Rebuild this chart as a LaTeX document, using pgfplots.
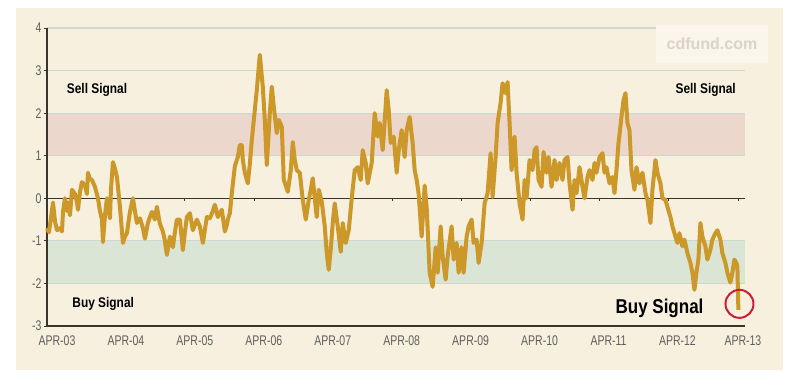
\documentclass[border=0pt]{standalone}
\usepackage{pgfplots}
\pgfplotsset{compat=1.18}
\usepackage{pgfplotstable}
\usepackage{fontspec}
\setmainfont{Liberation Sans}
\newfontfamily\tickfont{Liberation Sans}[FakeStretch=0.75]
\newfontfamily\sigfont{Liberation Sans}[FakeStretch=0.85]
\definecolor{panel}{RGB}{247,240,222}
\definecolor{pinkband}{RGB}{236,215,205}
\definecolor{greenband}{RGB}{219,229,214}
\definecolor{gridc}{RGB}{203,218,208}
\definecolor{linec}{RGB}{204,152,42}
\definecolor{axisc}{RGB}{60,52,44}
\definecolor{tickc}{RGB}{95,95,95}
\definecolor{circred}{RGB}{205,30,50}
\definecolor{wmbox}{RGB}{250,246,236}
\definecolor{wmtext}{RGB}{218,212,200}

\pgfplotstableread{
p v
47 -0.70
49 -0.80
51 -0.45
53 -0.10
55 -0.55
57 -0.75
60 -0.70
62 -0.78
63 -0.32
65 0.00
67 -0.30
68 -0.10
70 -0.40
72 0.20
75 0.10
77 -0.10
78 -0.27
80 0.15
82 0.38
85 0.30
87 0.10
88 0.60
90 0.45
92 0.43
95 0.27
98 0.00
100 -0.30
102 -0.50
103 -1.03
105 -0.40
107 0.00
110 -0.47
111 0.20
113 0.85
115 0.70
117 0.50
120 -0.20
123 -1.05
125 -0.90
127 -0.82
130 -0.32
133 0.00
135 -0.30
137 -0.58
140 -0.47
143 -0.70
145 -0.95
148 -0.58
150 -0.44
152 -0.32
155 -0.50
157 -0.20
160 -0.60
163 -0.78
165 -1.00
167 -1.33
170 -0.90
173 -1.15
175 -0.80
177 -0.50
180 -0.50
183 -1.22
185 -0.80
187 -0.44
190 -0.35
193 -0.75
197 -0.50
200 -0.66
203 -1.05
207 -0.44
210 -0.47
213 -0.30
215 -0.15
218 -0.44
220 -0.35
222 -0.27
225 -0.78
227 -0.63
228 -0.50
230 -0.35
232 0.12
235 0.75
238 0.97
240 1.25
242 1.25
243 0.90
245 0.60
248 0.35
250 0.80
252 1.37
255 2.07
257 2.54
260 3.37
263 2.62
265 1.84
267 0.78
270 2.00
272 2.62
274 2.15
277 1.53
279 1.84
282 1.68
284 0.43
286 0.30
288 0.15
291 0.66
293 1.32
295 0.90
297 0.66
300 0.60
303 -0.04
306 -0.50
309 -0.04
311 0.20
313 0.47
315 0.00
317 -0.44
319 0.20
322 -0.08
325 -0.66
327 -1.29
329 -1.68
331 -1.20
333 -0.58
335 -0.12
338 -0.66
341 -1.26
343 -0.58
346 -1.05
349 -0.75
352 0.00
355 0.66
358 0.73
361 0.43
363 1.13
366 0.83
368 0.35
372 0.83
375 2.00
378 1.45
380 1.77
383 1.13
384 1.45
387 2.54
389 2.07
391 1.30
394 1.45
397 0.60
399 1.13
402 1.60
405 0.97
407 1.60
410 1.91
413 1.30
415 0.66
417 0.43
419 0.10
422 -0.90
425 0.30
427 -0.20
430 -1.75
433 -2.08
436 -1.15
438 -1.75
441 -0.66
443 -1.36
446 -1.91
448 -1.36
452 -0.66
454 -1.44
457 -1.05
459 -1.75
462 -1.15
464 -1.75
467 -0.90
469 -0.66
472 -0.50
474 -1.05
477 -0.97
479 -1.52
482 -1.05
485 -0.12
488 0.12
491 1.06
493 0.03
496 0.97
498 1.77
501 2.24
503 2.70
506 2.47
508 2.73
510 1.77
512 0.66
515 1.45
517 0.60
520 -0.12
523 -0.50
525 0.43
527 0.00
530 0.90
533 0.66
535 1.13
537 1.20
539 0.43
542 0.27
544 1.09
547 0.60
549 0.97
552 0.27
555 0.90
557 0.43
560 0.83
563 0.43
565 0.90
568 0.97
570 0.35
573 -0.27
575 0.43
577 0.12
580 0.73
583 0.27
585 0.00
588 0.50
590 0.66
593 0.43
595 0.83
597 0.60
600 0.97
603 1.06
605 0.60
607 0.73
610 0.35
613 0.50
615 0.12
617 0.66
619 1.29
622 1.91
624 2.30
626 2.47
628 1.77
630 1.60
632 0.66
635 0.20
637 0.73
640 0.35
643 0.60
646 0.12
648 -0.04
651 -0.58
653 0.20
656 0.90
658 0.60
661 0.35
663 0.00
666 -0.04
668 -0.20
671 -0.44
673 -0.66
676 -0.90
678 -1.05
680 -0.82
683 -1.13
685 -0.97
688 -1.29
691 -1.52
693 -1.75
695 -2.15
697 -1.75
699 -1.44
701 -0.58
703 -0.90
706 -1.13
708 -1.44
711 -1.21
713 -0.97
716 -0.82
718 -0.75
721 -0.97
723 -1.29
726 -1.52
728 -1.75
731 -1.98
733 -1.75
735 -1.44
737 -1.52
738 -1.60
739 -2.62
}\series

\begin{document}
\begin{tikzpicture}
\begin{axis}[
  at={(0pt,0pt)}, anchor=south west,
  scale only axis, width=698pt, height=298pt,
  set layers,
  xmin=-0.145, xmax=9.98, ymin=-3, ymax=4,
  axis lines=left,
  axis line style={-, draw=axisc, line width=1.3pt},
  ytick={-3,...,4},
  xtick={0,1,2,3,4,5,6,7,8,9,9.95},
  xticklabels={APR-03,APR-04,APR-05,APR-06,APR-07,APR-08,APR-09,APR-10,APR-11,APR-12,APR-13},
  xtick style={draw=none},
  ytick style={draw=axisc, line width=0.8pt},
  tick align=outside,
  major tick length=3pt,
  ymajorgrids,
  grid style={gridc, line width=1.2pt},
  /pgf/number format/assume math mode=true,
  ticklabel style={font=\tickfont\fontsize{14}{14}\selectfont, text=tickc},
  xticklabel style={yshift=-3pt},
  yticklabel style={xshift=1pt},
  clip=false,
]
\begin{pgfonlayer}{axis background}
\fill[white] ([xshift=-47pt,yshift=-62pt]rel axis cs:0,0) rectangle ([xshift=55pt,yshift=28pt]rel axis cs:1,1);
\fill[panel] ([xshift=-31pt,yshift=-44pt]rel axis cs:0,0) rectangle ([xshift=38pt,yshift=20pt]rel axis cs:1,1);
\fill[pinkband] (axis cs:-0.145,1) rectangle (axis cs:9.98,2);
\fill[greenband] (axis cs:-0.145,-1) rectangle (axis cs:9.98,-2);
\end{pgfonlayer}
\draw[axisc, line width=1.2pt] (axis cs:-0.145,0) -- (axis cs:9.98,0);
\pgfplotsinvokeforeach{1.855,2.86,3.855,4.86,5.865,6.87,7.875,8.875,9.88}{
  \draw[axisc, line width=0.8pt] (axis cs:#1,0) -- ++(0pt,-3pt);
}
\addplot[linec, line width=4pt, line join=round, no markers] table[x expr=(\thisrow{p}-57)/69, y=v] {\series};
\addplot[only marks, mark=o, mark size=14pt, mark options={draw=circred, line width=2pt}] coordinates {(9.90,-2.48)};
\node[font=\sigfont\bfseries\fontsize{14}{14}\selectfont] at (axis cs:0.58,2.54) {Sell Signal};
\node[font=\sigfont\bfseries\fontsize{14}{14}\selectfont] at (axis cs:9.41,2.54) {Sell Signal};
\node[font=\sigfont\bfseries\fontsize{14}{14}\selectfont] at (axis cs:0.67,-2.48) {Buy Signal};
\node[font=\sigfont\bfseries\fontsize{20}{20}\selectfont] at (axis cs:8.74,-2.58) {Buy Signal};
\begin{pgfonlayer}{axis foreground}
\fill[wmbox] ([xshift=-89pt,yshift=-35pt]rel axis cs:1,1) rectangle ([xshift=23pt,yshift=3pt]rel axis cs:1,1);
\node[font=\bfseries\fontsize{16}{16}\selectfont, text=wmtext] at ([xshift=-33pt,yshift=-16pt]rel axis cs:1,1) {cdfund.com};
\end{pgfonlayer}
\end{axis}
\end{tikzpicture}
\end{document}
